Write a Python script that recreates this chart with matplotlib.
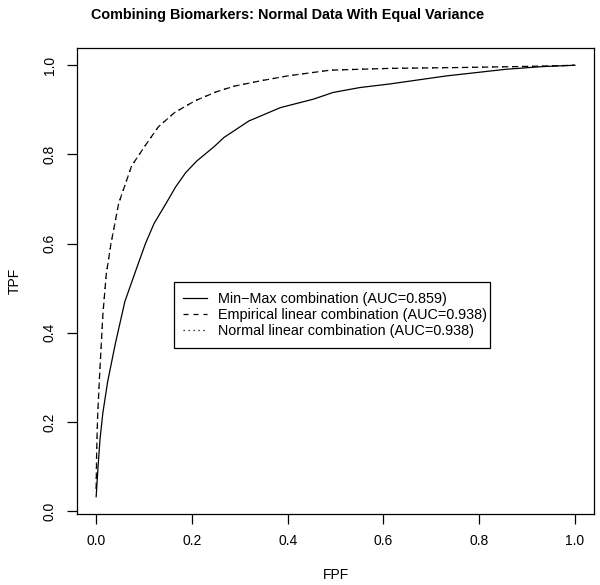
import numpy as np
import matplotlib
matplotlib.use("Agg")
import matplotlib.pyplot as plt
from matplotlib.patches import Rectangle

plt.rcParams['font.family'] = ['Liberation Sans', 'DejaVu Sans']

# ROC curves
minmax_fpf = [0.0, 0.004, 0.008, 0.014, 0.024, 0.040, 0.060, 0.083, 0.103, 0.121,
              0.146, 0.166, 0.187, 0.210, 0.246, 0.267, 0.319, 0.385, 0.454, 0.495,
              0.551, 0.613, 0.731, 0.856, 0.932, 1.0]
minmax_tpf = [0.032, 0.10, 0.16, 0.22, 0.29, 0.375, 0.47, 0.54, 0.60, 0.645,
              0.69, 0.727, 0.759, 0.785, 0.817, 0.838, 0.875, 0.905, 0.924, 0.939,
              0.950, 0.958, 0.976, 0.991, 0.997, 1.0]

emp_fpf = [0.0, 0.001, 0.003, 0.007, 0.014, 0.021, 0.031, 0.047, 0.074, 0.102,
           0.130, 0.164, 0.206, 0.25, 0.288, 0.343, 0.399, 0.489, 0.613, 0.765,
           0.93, 1.0]
emp_tpf = [0.05, 0.13, 0.21, 0.30, 0.44, 0.53, 0.60, 0.69, 0.774, 0.819,
           0.862, 0.894, 0.920, 0.94, 0.953, 0.965, 0.976, 0.989, 0.993, 0.995,
           0.998, 1.0]

# normal linear combination sits on top of the empirical one
norm_fpf = emp_fpf
norm_tpf = emp_tpf

labels = ["Min\u2212Max combination (AUC=0.859)",
          "Empirical linear combination (AUC=0.938)",
          "Normal linear combination (AUC=0.938)"]

fig = plt.figure(figsize=(6, 5.85), dpi=100)
ax = fig.add_axes([77/600, 1-514/585, 517/600, 466/585])

ax.plot(minmax_fpf, minmax_tpf, color='black', lw=0.9, ls='-', label=labels[0])
ax.plot(emp_fpf, emp_tpf, color='black', lw=0.9, ls=(0, (4, 4)), label=labels[1])
ax.plot(norm_fpf, norm_tpf, color='black', lw=0.9, ls=(0, (1, 3)), label=labels[2])

ax.set_xlim(-0.04, 1.04)
ax.set_ylim(0.032 - 0.968*0.04, 1 + 0.968*0.04)
ax.set_xticks(np.arange(0, 1.01, 0.2))
ax.set_yticks(np.arange(0, 1.01, 0.2))
ax.set_xticklabels(["0.0", "0.2", "0.4", "0.6", "0.8", "1.0"])
ax.set_yticklabels(["0.0", "0.2", "0.4", "0.6", "0.8", "1.0"], rotation=90, va='center')
ax.tick_params(direction='out', length=7, width=0.9, labelsize=10, pad=7.5)
for s in ax.spines.values():
    s.set_linewidth(0.9)

ax.set_xlabel("FPF", fontsize=10, labelpad=14)
ax.set_ylabel("TPF", fontsize=10, labelpad=15)
fig.text(0.48, 1-15/585, "Combining Biomarkers: Normal Data With Equal Variance",
         ha='center', va='center', fontsize=10.4, fontweight='bold')

leg = ax.legend(loc='upper left', bbox_to_anchor=((183-77)/517, (514-292)/466),
                frameon=False, fontsize=10.35, handlelength=1.67,
                borderpad=0, labelspacing=0.15, handletextpad=0.76, borderaxespad=0)
ax.add_patch(Rectangle(((174-77)/517, (514-348)/466), (490-174)/517, (348-282)/466,
                       transform=ax.transAxes, fill=False, edgecolor='black',
                       lw=0.9, zorder=5))

fig.savefig("out.png", dpi=100)
